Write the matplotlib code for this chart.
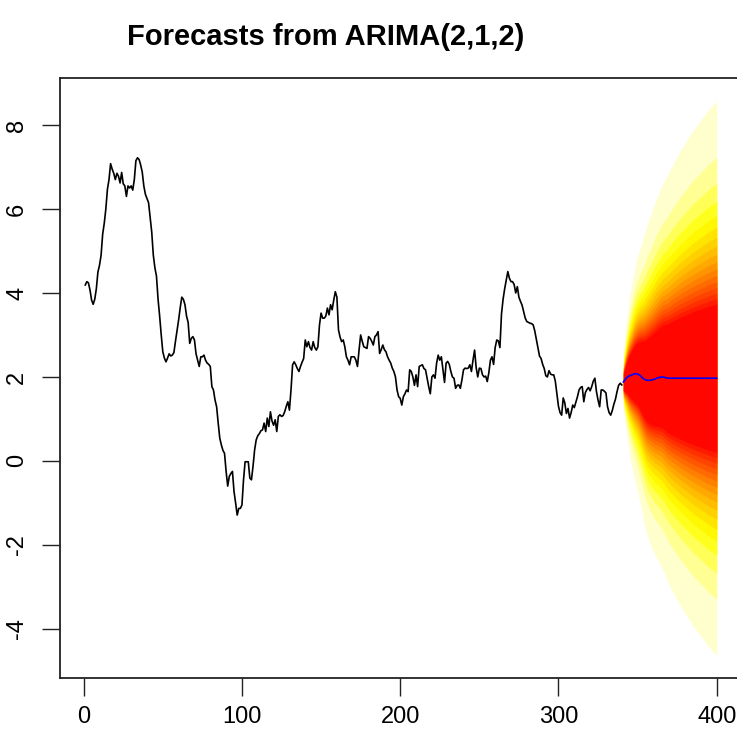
import numpy as np
import matplotlib
matplotlib.use("Agg")
import matplotlib.pyplot as plt
from colorsys import hsv_to_rgb
from statistics import NormalDist

plt.rcParams['font.family'] = ['Liberation Sans', 'DejaVu Sans']

# observed series, t = 1..340
obs = [4.19, 4.27, 4.24, 4.07, 3.83, 3.73, 3.85, 4.1, 4.5, 4.66,
       4.9, 5.4, 5.66, 6.0, 6.47, 6.7, 7.08, 6.95, 6.85, 6.7,
       6.85, 6.78, 6.62, 6.87, 6.6, 6.55, 6.3, 6.55, 6.5, 6.55,
       6.45, 6.7, 7.15, 7.22, 7.18, 7.05, 6.88, 6.55, 6.35, 6.25,
       6.15, 5.8, 5.45, 4.9, 4.6, 4.4, 3.85, 3.45, 3.0, 2.6,
       2.45, 2.36, 2.45, 2.55, 2.5, 2.52, 2.58, 2.85, 3.1, 3.36,
       3.65, 3.9, 3.85, 3.72, 3.45, 3.3, 2.8, 2.92, 2.96, 2.88,
       2.55, 2.4, 2.25, 2.48, 2.48, 2.52, 2.4, 2.33, 2.3, 2.25,
       1.77, 1.69, 1.45, 1.29, 0.9, 0.54, 0.38, 0.25, 0.18, -0.25,
       -0.6, -0.37, -0.3, -0.25, -0.73, -1.0, -1.29, -1.13, -1.13, -1.05,
       -0.45, -0.02, -0.02, -0.02, -0.41, -0.45, -0.13, 0.26, 0.5, 0.6,
       0.65, 0.72, 0.74, 0.9, 0.7, 1.02, 0.82, 1.17, 0.95, 0.85,
       0.98, 0.7, 1.06, 1.1, 1.06, 1.08, 1.17, 1.3, 1.41, 1.21,
       1.69, 2.29, 2.36, 2.29, 2.2, 2.13, 2.25, 2.35, 2.44, 2.88,
       2.72, 2.84, 2.7, 2.64, 2.84, 2.7, 2.64, 2.72, 3.24, 3.52,
       3.4, 3.4, 3.45, 3.64, 3.48, 3.72, 3.6, 3.83, 4.03, 3.9,
       3.12, 2.95, 2.84, 2.88, 2.72, 2.48, 2.4, 2.29, 2.48, 2.48,
       2.48, 2.4, 2.25, 2.64, 3.0, 2.85, 2.72, 2.7, 2.68, 2.96,
       2.92, 2.85, 2.76, 2.96, 3.0, 3.08, 2.56, 2.65, 2.76, 2.65,
       2.6, 2.48, 2.4, 2.33, 2.21, 2.13, 2.0, 1.69, 1.53, 1.49,
       1.33, 1.53, 1.6, 1.69, 1.65, 2.17, 2.13, 2.0, 1.8, 2.05,
       1.77, 2.25, 2.27, 2.29, 2.2, 2.17, 1.97, 1.77, 1.6, 2.0,
       2.05, 1.97, 2.33, 2.52, 2.4, 2.48, 2.17, 1.87, 2.33, 2.37,
       2.3, 2.13, 2.0, 1.97, 1.73, 1.8, 1.81, 1.73, 1.93, 2.17,
       2.21, 2.2, 2.21, 2.29, 2.13, 2.4, 2.64, 2.22, 2.0, 2.21,
       2.2, 2.05, 2.0, 2.02, 1.89, 2.1, 2.4, 2.48, 2.3, 2.7,
       2.88, 2.86, 2.7, 3.5, 3.85, 4.1, 4.3, 4.51, 4.35, 4.27,
       4.27, 4.2, 4.0, 4.15, 3.9, 3.8, 3.71, 3.55, 3.4, 3.32,
       3.3, 3.28, 3.27, 3.24, 3.1, 2.9, 2.7, 2.5, 2.44, 2.3,
       2.2, 2.03, 2.0, 2.15, 2.07, 2.05, 2.05, 1.9, 1.6, 1.3,
       1.15, 1.09, 1.5, 1.38, 1.13, 1.25, 1.02, 1.15, 1.33, 1.27,
       1.4, 1.53, 1.69, 1.75, 1.77, 1.41, 1.63, 1.7, 1.75, 1.67,
       1.77, 1.9, 1.97, 1.65, 1.45, 1.29, 1.69, 1.69, 1.66, 1.62,
       1.29, 1.15, 1.09, 1.2, 1.35, 1.47, 1.65, 1.8, 1.85, 1.81]

# point forecasts, t = 341..400
fc_mean = [1.88, 1.93, 1.98, 2.01, 2.03, 2.04, 2.06, 2.07, 2.08, 2.07,
           2.05, 2.02, 1.98, 1.95, 1.93, 1.92, 1.92, 1.92, 1.93, 1.94,
           1.95, 1.97, 1.98, 1.99, 2.0, 2.0, 1.99, 1.98, 1.97, 1.97,
           1.97, 1.97, 1.97, 1.97, 1.97, 1.97, 1.97, 1.97, 1.97, 1.97,
           1.97, 1.97, 1.97, 1.97, 1.97, 1.97, 1.97, 1.97, 1.97, 1.97,
           1.97, 1.97, 1.97, 1.97, 1.97, 1.97, 1.97, 1.97, 1.97, 1.97]

# half-width of the 99% interval, horizons 1..60
fc_half99 = [0.7, 1.05, 1.35, 1.65, 1.9, 2.1, 2.3, 2.5, 2.65, 2.8,
             2.95, 3.1, 3.25, 3.4, 3.55, 3.7, 3.8, 3.9, 4.0, 4.1,
             4.2, 4.28, 4.36, 4.44, 4.52, 4.6, 4.68, 4.76, 4.84, 4.92,
             5.0, 5.07, 5.14, 5.21, 5.28, 5.35, 5.42, 5.48, 5.54, 5.6,
             5.66, 5.72, 5.78, 5.84, 5.9, 5.95, 6.0, 6.05, 6.1, 6.15,
             6.2, 6.25, 6.3, 6.35, 6.4, 6.44, 6.48, 6.52, 6.56, 6.6]

levels = list(range(51, 100, 3))
x_ticks = [0, 100, 200, 300, 400]
y_ticks = [-4, -2, 0, 2, 4, 6, 8]
title = "Forecasts from ARIMA(2,1,2)"


def heat_colors(n):
    j = n // 4
    i = n - j
    cols = [hsv_to_rgb(h, 1, 1) for h in np.linspace(0, 1 / 6, i)]
    if j > 0:
        cols += [hsv_to_rgb(1 / 6, s, 1) for s in np.linspace(1 - 1 / (2 * j), 1 / (2 * j), j)]
    return cols


W, H = 737, 735
fig = plt.figure(figsize=(W / 100, H / 100), dpi=100)
ax = fig.add_axes([60 / W, 1 - 678 / H, (742 - 60) / W, (678 - 78) / H])

t_obs = np.arange(1, len(obs) + 1)
t_fc = np.arange(len(obs) + 1, len(obs) + 1 + len(fc_mean))
mean = np.array(fc_mean)
sd = np.array(fc_half99) / NormalDist().inv_cdf(0.995)

heat = heat_colors(52)
for lev in sorted(levels, reverse=True):
    z = NormalDist().inv_cdf(0.5 + lev / 200)
    ax.fill_between(t_fc, mean - z * sd, mean + z * sd,
                    color=heat[lev - 50], lw=0, zorder=1)

ax.plot(t_obs, obs, color='black', lw=1.2, zorder=3)
ax.plot(t_fc, mean, color='blue', lw=1.2, zorder=4)

ax.set_xlim(1 - 0.04 * 399, 400 + 0.04 * 399)
ax.set_ylim(-5.17, 9.12)
ax.set_xticks(x_ticks)
ax.set_yticks(y_ticks)
ax.set_xticklabels([str(v) for v in x_ticks], fontsize=17)
ax.set_yticklabels([str(v) for v in y_ticks], fontsize=17, rotation=90, va='center')
ax.tick_params(direction='out', length=13, width=1.0, color='#222222')
ax.tick_params(axis='x', pad=7)
ax.tick_params(axis='y', pad=10)
for s in ax.spines.values():
    s.set_linewidth(1.3)
    s.set_color('#222222')

fig.text(326 / W, 1 - 37 / H, title, ha='center', va='center',
         fontsize=21, fontweight='bold')

fig.savefig('out.png', dpi=100)
